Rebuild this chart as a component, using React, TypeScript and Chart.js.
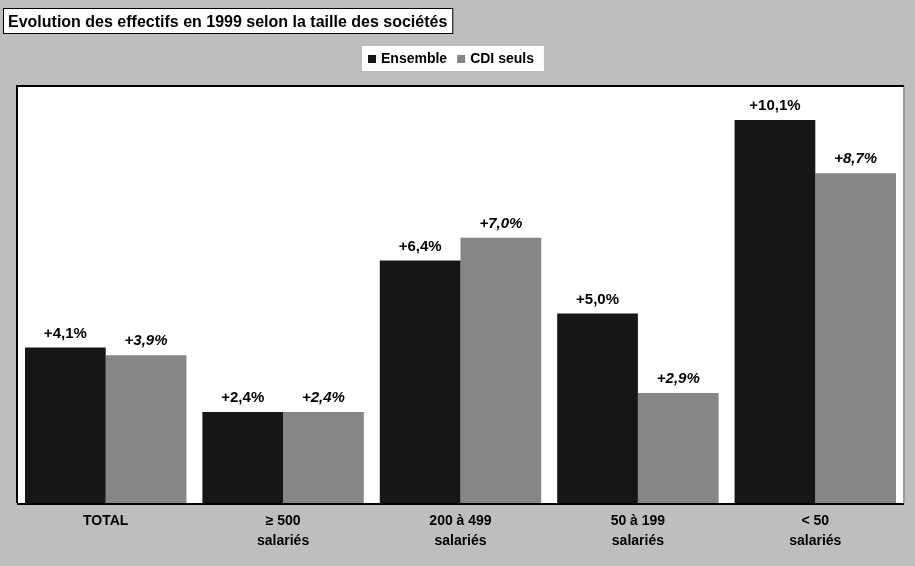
import React, { useEffect, useRef } from "react";
import { Chart, registerables } from "chart.js";

Chart.register(...registerables);

const TITLE = "Evolution des effectifs en 1999 selon la taille des sociétés";
const CATEGORIES: string[][] = [
  ["TOTAL"],
  ["≥ 500", "salariés"],
  ["200 à 499", "salariés"],
  ["50 à 199", "salariés"],
  ["< 50", "salariés"],
];
const SERIES_NAMES = ["Ensemble", "CDI seuls"];
const ENSEMBLE = [4.1, 2.4, 6.4, 5.0, 10.1];
const CDI_SEULS = [3.9, 2.4, 7.0, 2.9, 8.7];
const Y_MAX = 11;

const PAGE_BG = "#bebebe";
const DARK = "#161616";
const GREY = "#868686";
const FONT = "'Liberation Sans', Arial, sans-serif";

const fmt = (v: number) => "+" + v.toFixed(1).replace(".", ",") + "%";

const decorPlugin = {
  id: "decor",
  beforeDraw(chart: any) {
    const { ctx, chartArea: a } = chart;
    ctx.save();
    ctx.fillStyle = PAGE_BG;
    ctx.fillRect(0, 0, chart.width, chart.height);
    ctx.fillStyle = "#ffffff";
    ctx.fillRect(a.left, a.top, a.right - a.left, a.bottom - a.top);
    // right border (light)
    ctx.strokeStyle = "#9a9a9a";
    ctx.lineWidth = 2;
    ctx.beginPath();
    ctx.moveTo(a.right, a.top);
    ctx.lineTo(a.right, a.bottom);
    ctx.stroke();
    // left & top border
    ctx.strokeStyle = "#000";
    ctx.lineWidth = 2;
    ctx.beginPath();
    ctx.moveTo(a.left, a.bottom);
    ctx.lineTo(a.left, a.top);
    ctx.lineTo(a.right, a.top);
    ctx.stroke();

    // title box
    ctx.font = `bold 16px ${FONT}`;
    const tw = ctx.measureText(TITLE).width;
    ctx.fillStyle = "#fff";
    ctx.fillRect(3, 8, tw + 10, 25);
    ctx.strokeStyle = "#000";
    ctx.lineWidth = 1;
    ctx.strokeRect(3.5, 8.5, tw + 10, 25);
    ctx.fillStyle = "#000";
    ctx.textBaseline = "alphabetic";
    ctx.textAlign = "left";
    ctx.fillText(TITLE, 8, 27);

    // legend box
    ctx.font = `bold 14px ${FONT}`;
    const colors = [DARK, GREY];
    const boxX = 362;
    const boxY = 46;
    let x = boxX + 6;
    const widths = SERIES_NAMES.map((n) => ctx.measureText(n).width);
    const totalW = 6 + widths.reduce((s, w) => s + 8 + 5 + w + 10, 0);
    ctx.fillStyle = "#fff";
    ctx.fillRect(boxX, boxY, totalW, 25);
    SERIES_NAMES.forEach((n, i) => {
      ctx.fillStyle = colors[i];
      ctx.fillRect(x, boxY + 9, 8, 8);
      x += 13;
      ctx.fillStyle = "#000";
      ctx.textBaseline = "middle";
      ctx.fillText(n, x, boxY + 13.5);
      x += widths[i] + 10;
    });
    ctx.restore();
  },
  afterDatasetsDraw(chart: any) {
    const { ctx, chartArea: a } = chart;
    ctx.save();
    ctx.strokeStyle = "#000";
    ctx.lineWidth = 2;
    ctx.beginPath();
    ctx.moveTo(a.left, a.bottom + 1);
    ctx.lineTo(a.right, a.bottom + 1);
    ctx.stroke();
    ctx.fillStyle = "#000";
    ctx.textAlign = "center";
    ctx.textBaseline = "middle";
    chart.data.datasets.forEach((ds: any, di: number) => {
      const meta = chart.getDatasetMeta(di);
      ctx.font = (di === 1 ? "italic " : "") + `bold 15px ${FONT}`;
      meta.data.forEach((bar: any, i: number) => {
        ctx.fillText(fmt(ds.data[i]), bar.x, bar.y - 14);
      });
    });
    ctx.restore();
  },
};

export default function App() {
  const ref = useRef<HTMLCanvasElement | null>(null);
  useEffect(() => {
    if (!ref.current) return;
    const chart = new Chart(ref.current, {
      type: "bar",
      data: {
        labels: CATEGORIES,
        datasets: [
          {
            label: SERIES_NAMES[0],
            data: ENSEMBLE,
            backgroundColor: DARK,
            borderWidth: 0,
            categoryPercentage: 0.91,
            barPercentage: 1,
          },
          {
            label: SERIES_NAMES[1],
            data: CDI_SEULS,
            backgroundColor: GREY,
            borderWidth: 0,
            categoryPercentage: 0.91,
            barPercentage: 1,
          },
        ],
      },
      options: {
        animation: false,
        responsive: false,
        layout: { padding: { top: 86, left: 17, right: 11, bottom: 0 } },
        plugins: {
          legend: { display: false },
          title: { display: false },
          tooltip: { enabled: false },
        },
        scales: {
          x: {
            grid: { display: false, drawTicks: false },
            border: { display: false },
            ticks: {
              color: "#000",
              font: { family: FONT, size: 14, weight: "bold", lineHeight: 1.45 },
              padding: 8,
              maxRotation: 0,
            },
            afterFit: (axis: any) => {
              axis.height = 63;
            },
          },
          y: {
            display: false,
            min: 0,
            max: Y_MAX,
          },
        },
      },
      plugins: [decorPlugin],
    });
    return () => chart.destroy();
  }, []);
  return (
    <div style={{ position: "fixed", left: 0, top: 0, width: 915, height: 566 }}>
      <canvas ref={ref} width={915} height={566} style={{ display: "block" }} />
    </div>
  );
}
